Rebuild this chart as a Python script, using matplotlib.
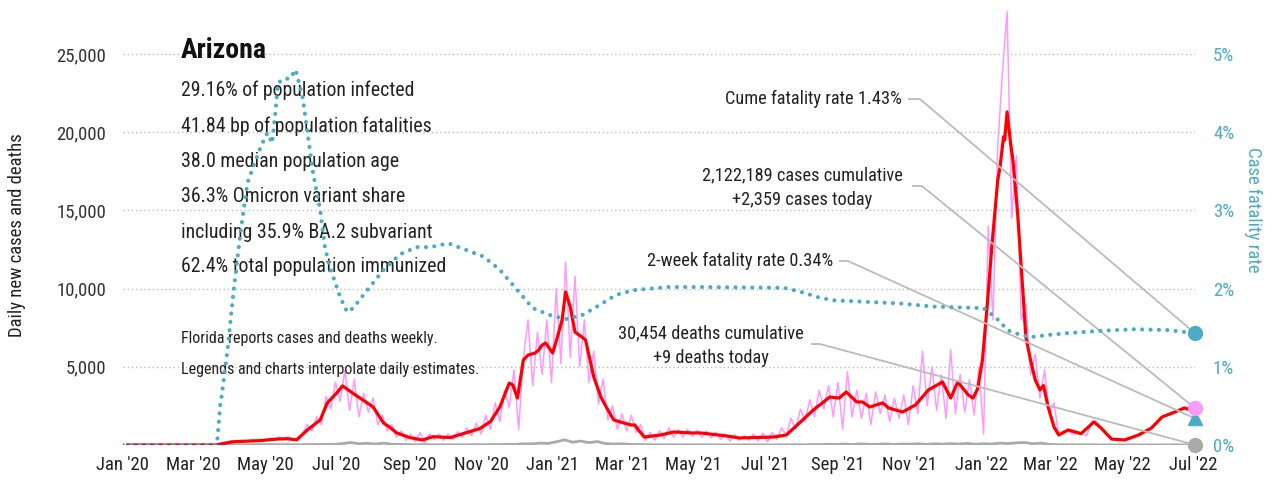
import matplotlib
matplotlib.use("Agg")
import matplotlib.pyplot as plt
import matplotlib.dates as mdates
from matplotlib import font_manager as fm
from matplotlib.ticker import FixedLocator, FuncFormatter
import pandas as pd

# ---------------- data ----------------
state_name = "Arizona"
stat_lines = [
    "29.16% of population infected",
    "41.84 bp of population fatalities",
    "38.0 median population age",
    "36.3% Omicron variant share",
    "including 35.9% BA.2 subvariant",
    "62.4% total population immunized",
]
note_lines = [
    "Florida reports cases and deaths weekly.",
    "Legends and charts interpolate daily estimates.",
]
cume_cases_label = "2,122,189 cases cumulative"
today_cases_label = "+2,359 cases today"
cume_deaths_label = "30,454 deaths cumulative"
today_deaths_label = "+9 deaths today"
cume_cfr_label = "Cume fatality rate 1.43%"
twoweek_cfr_label = "2-week fatality rate 0.34%"

last_date = "2022-07-02"
cases_today = 2359
deaths_today = 9
cume_cfr = 1.43
twoweek_cfr = 0.34

# 7-day average of new cases (red)
avg_dates = [
    "2020-01-05", "2020-03-20", "2020-04-04", "2020-04-27", "2020-05-11", "2020-05-20",
    "2020-05-28", "2020-06-06", "2020-06-17", "2020-06-23", "2020-07-01", "2020-07-06",
    "2020-07-15", "2020-07-27", "2020-08-01", "2020-08-10", "2020-08-15", "2020-08-21",
    "2020-09-01", "2020-09-12", "2020-09-21", "2020-10-06", "2020-10-20", "2020-10-31",
    "2020-11-09", "2020-11-17", "2020-11-25", "2020-11-28", "2020-12-02", "2020-12-07",
    "2020-12-11", "2020-12-17", "2020-12-20", "2020-12-23", "2020-12-26", "2021-01-01",
    "2021-01-05", "2021-01-09", "2021-01-12", "2021-01-16", "2021-01-20", "2021-01-26",
    "2021-01-29", "2021-02-05", "2021-02-11", "2021-02-17", "2021-02-22", "2021-03-03",
    "2021-03-09", "2021-03-12", "2021-03-15", "2021-03-20", "2021-04-03", "2021-04-14",
    "2021-04-30", "2021-05-07", "2021-05-29", "2021-06-09", "2021-07-08", "2021-07-19",
    "2021-07-30", "2021-08-11", "2021-08-25", "2021-09-02", "2021-09-08", "2021-09-17",
    "2021-09-22", "2021-09-28", "2021-10-09", "2021-10-14", "2021-10-26", "2021-11-06",
    "2021-11-17", "2021-11-29", "2021-12-06", "2021-12-12", "2021-12-21", "2021-12-25",
    "2021-12-29", "2022-01-02", "2022-01-06", "2022-01-10", "2022-01-15", "2022-01-17",
    "2022-01-20", "2022-01-21", "2022-01-23", "2022-01-26", "2022-01-28", "2022-02-01",
    "2022-02-05", "2022-02-08", "2022-02-12", "2022-02-16", "2022-02-20", "2022-02-23",
    "2022-02-27", "2022-03-04", "2022-03-08", "2022-03-16", "2022-03-27", "2022-04-07",
    "2022-04-13", "2022-04-22", "2022-05-03", "2022-05-15", "2022-05-26", "2022-06-04",
    "2022-06-15", "2022-06-23", "2022-06-28", "2022-07-02",
]
avg_cases = [
    0, 0, 210, 280, 380, 400,
    330, 960, 1600, 2690, 3320, 3780,
    3300, 2690, 2440, 1400, 1150, 780,
    480, 320, 530, 480, 800, 1050,
    1500, 2430, 3960, 3840, 3000, 5430,
    5750, 5880, 6070, 6390, 6520, 5880,
    6900, 7990, 9780, 8820, 7220, 6900,
    6710, 4350, 3070, 2240, 1600, 1400,
    1280, 1280, 960, 510, 640, 830,
    770, 770, 580, 450, 510, 640,
    1400, 2240, 3070, 3000, 3390, 2750,
    2750, 2430, 2690, 2370, 2110, 2560,
    3520, 4030, 3000, 4030, 3200, 3000,
    3600, 5430, 8820, 12660, 16900, 17780,
    19700, 19500, 21300, 19300, 18200, 14800,
    10360, 6900, 5430, 4160, 3520, 3800,
    2430, 1150, 640, 960, 730, 1470,
    1090, 380, 320, 640, 1090, 1790,
    2110, 2370, 2240, 2430,
]

# reported new cases (pink), every 4 days from 2020-03-02
daily_start = "2020-03-02"
daily_cases = [
    0, 0, 0, 0, 20, 60, 150, 200,
    280, 200, 300, 220, 330, 250, 350, 280,
    420, 300, 500, 380, 520, 300, 420, 700,
    1300, 900, 1800, 1300, 3100, 2300, 4000, 2800,
    4800, 2200, 4200, 1800, 3300, 2100, 3000, 1300,
    1900, 900, 1300, 500, 900, 300, 700, 200,
    800, 150, 700, 350, 700, 300, 700, 350,
    850, 500, 1100, 600, 1400, 700, 1900, 1000,
    2700, 1500, 3500, 2400, 4800, 1000, 5500, 8000,
    3800, 7200, 4500, 8000, 4000, 10000, 5200, 11700,
    5600, 10800, 5000, 8000, 4000, 6000, 2600, 4200,
    1600, 2500, 1000, 2000, 900, 1900, 800, 1300,
    300, 800, 300, 900, 400, 1100, 500, 1000,
    500, 1000, 550, 950, 500, 900, 450, 800,
    350, 700, 250, 650, 300, 600, 300, 700,
    250, 750, 200, 800, 350, 1100, 600, 1700,
    1000, 2300, 1500, 2900, 1800, 3500, 2300, 3800,
    1800, 4000, 1000, 4700, 1800, 3500, 1700, 3300,
    1300, 3400, 2000, 3200, 1500, 3000, 1700, 3200,
    1300, 3800, 2000, 6000, 2500, 5000, 2200, 4500,
    1700, 6100, 2000, 4500, 2100, 4200, 1900, 5000,
    700, 14000, 8000, 19000, 23800, 27700, 14500, 18500,
    8000, 9000, 4500, 5800, 3000, 4800, 2000, 2700,
    600, 900, 900, 700, 750, 700, 600, 1500,
    1500, 1100, 700, 400, 300, 300, 300, 350,
    550, 650, 800, 950, 1100, 1500, 1800, 1900,
    2100, 2150, 2300, 2400, 2350, 2359,
]

# new deaths (grey), weekly from 2020-01-06
deaths_start = "2020-01-06"
daily_deaths = [
    0, 0, 0, 0, 0, 0, 0, 0,
    0, 0, 2, 8, 15, 20, 25, 18, 25, 30, 20, 25, 15,
    20, 30, 25, 40, 45, 90, 160, 80, 110, 60, 120, 50, 40, 25,
    15, 30, 10, 20, 15, 20, 10, 25, 15, 30, 25, 45, 40,
    80, 70, 120, 100,
    200, 330, 180, 250, 150, 220, 90, 60, 80, 40, 30, 20, 15,
    10, 20, 10, 15, 10, 15, 8, 12, 5, 10, 15, 8, 12,
    5, 15, 10, 20, 15, 30, 25, 45, 35, 60, 30, 70, 50,
    40, 70, 35, 60, 50, 80, 40, 75, 55, 90, 60, 100, 50,
    80, 60, 120, 90, 140, 160, 80, 120, 40,
    20, 15, 10, 12, 8, 10, 6, 8, 5, 8, 6, 7, 5, 6, 8, 7, 9,
]

# case fatality rate, percent (teal, right axis)
cfr_dates = [
    "2020-01-01", "2020-03-21", "2020-03-24", "2020-03-25", "2020-03-30", "2020-04-04",
    "2020-04-10", "2020-04-16", "2020-04-21", "2020-04-27", "2020-04-30", "2020-05-03",
    "2020-05-07", "2020-05-10", "2020-05-12", "2020-05-18", "2020-05-22", "2020-05-27",
    "2020-06-02", "2020-06-07", "2020-06-11", "2020-06-17", "2020-06-21", "2020-06-25",
    "2020-06-30", "2020-07-04", "2020-07-10", "2020-07-15", "2020-07-27", "2020-08-10",
    "2020-08-24", "2020-09-07", "2020-09-19", "2020-10-04", "2020-10-20", "2020-11-03",
    "2020-11-17", "2020-12-02", "2020-12-15", "2020-12-30", "2021-01-12", "2021-01-26",
    "2021-02-10", "2021-02-24", "2021-03-11", "2021-04-09", "2021-05-07", "2021-07-17",
    "2021-07-31", "2021-08-15", "2021-08-28", "2021-09-26", "2021-10-24", "2021-11-21",
    "2022-01-03", "2022-01-09", "2022-01-17", "2022-01-23", "2022-02-03", "2022-02-12",
    "2022-03-01", "2022-03-15", "2022-04-13", "2022-05-11", "2022-06-09", "2022-07-02",
]
cfr_pct = [
    0.0, 0.0, 0.54, 0.62, 1.21, 1.94,
    2.71, 3.35, 3.56, 3.80, 3.90, 3.99,
    3.86, 4.28, 4.63, 4.69, 4.68, 4.80,
    4.45, 3.90, 3.47, 3.00, 2.53, 2.28,
    2.07, 1.89, 1.70, 1.75, 1.98, 2.24,
    2.44, 2.53, 2.53, 2.58, 2.49, 2.41,
    2.24, 1.98, 1.75, 1.66, 1.61, 1.66,
    1.79, 1.92, 1.98, 2.02, 2.02, 2.01,
    1.96, 1.89, 1.85, 1.83, 1.81, 1.77,
    1.75, 1.68, 1.58, 1.47, 1.41, 1.38,
    1.41, 1.43, 1.46, 1.48, 1.47, 1.43,
]

left_ticks = [5000, 10000, 15000, 20000, 25000]
right_ticks = [0, 1, 2, 3, 4, 5]

# ---------------- style ----------------
names = {f.name for f in fm.fontManager.ttflist}
stretch = "normal"
if "Liberation Sans Narrow" in names:
    family = "Liberation Sans Narrow"
elif "Roboto Condensed" in names:
    family = "Roboto Condensed"
elif any(f.name == "DejaVu Sans" and "cond" in str(f.stretch) for f in fm.fontManager.ttflist):
    family = "DejaVu Sans"
    stretch = "condensed"
else:
    family = "Roboto"
plt.rcParams["font.family"] = [family, "DejaVu Sans"]
plt.rcParams["font.stretch"] = stretch

TEAL = "#4bacc6"
PINK = "#ff99ff"
RED = "#ff0000"
GREY = "#aaaaaa"
TXT = "#222222"
GRID = "#bbbbbb"

fig = plt.figure(figsize=(12.81, 4.87), dpi=100)
ax = fig.add_axes([0.0960, 0.08624, 0.8368, 0.8992])
ax2 = ax.twinx()

d_avg = pd.to_datetime(avg_dates)
d_daily = pd.date_range(daily_start, periods=len(daily_cases), freq="4D")
d_deaths = list(pd.date_range(deaths_start, periods=len(daily_deaths), freq="7D")) + [pd.Timestamp(last_date)]
v_deaths = daily_deaths + [deaths_today]
d_cfr = pd.to_datetime(cfr_dates)
t_last = pd.Timestamp(last_date)

ax.plot(d_daily, daily_cases, color=PINK, lw=1.1, zorder=2)
ax.plot(d_deaths, v_deaths, color=GREY, lw=2.0, zorder=3)
ax.plot(d_avg, avg_cases, color=RED, lw=2.3, zorder=4, solid_joinstyle="round")

ax2.plot(d_cfr, cfr_pct, color=TEAL, lw=3.0, linestyle=(0, (0.01, 2.0)),
         dash_capstyle="round", zorder=5)

ymax = 28000
ax.set_ylim(0, ymax)
ax2.set_ylim(0, ymax / 5000)
ax.set_xlim(pd.Timestamp("2020-01-01"), t_last)

for a in (ax, ax2):
    for s in a.spines.values():
        s.set_visible(False)
    a.patch.set_visible(False)

ax.yaxis.set_major_locator(FixedLocator(left_ticks))
ax.yaxis.set_major_formatter(FuncFormatter(lambda v, p: f"{int(v):,}"))
ax.tick_params(axis="y", length=0, pad=12, labelsize=13.5, labelcolor="#333333")
ax.grid(axis="y", color=GRID, lw=1.0, linestyle=(0, (1, 2)))
ax.set_axisbelow(True)

ax2.yaxis.set_major_locator(FixedLocator(right_ticks))
ax2.yaxis.set_major_formatter(FuncFormatter(lambda v, p: f"{int(v)}%"))
ax2.tick_params(axis="y", length=0, pad=13, labelsize=13.5, labelcolor=TEAL)

ax.xaxis.set_major_locator(mdates.MonthLocator(bymonth=[1, 3, 5, 7, 9, 11]))
ax.xaxis.set_major_formatter(mdates.DateFormatter("%b '%y"))
ax.tick_params(axis="x", length=0, pad=8, labelsize=13.5, labelcolor="#222222")

ax.set_ylabel("Daily new cases and deaths", fontsize=13.5, color=TXT)
ax.yaxis.set_label_coords(-0.0905, 0.48)
ax2.set_ylabel("Case fatality rate", fontsize=13.5, color=TEAL, rotation=270, va="center")
ax2.yaxis.set_label_coords(1.054, 0.537)

# text block
ax2.text(0.0541, 0.902, state_name, transform=ax.transAxes, fontsize=20, fontweight="bold",
         color="#111111", va="center", ha="left", zorder=1)
stat_y = [0.8107, 0.7285, 0.6485, 0.5686, 0.4864, 0.4065]
for s, y in zip(stat_lines, stat_y):
    ax.text(0.0541, y, s, transform=ax.transAxes, fontsize=14.3, color=TXT, va="center", ha="left")
for s, y in zip(note_lines, [0.2421, 0.1713]):
    ax.text(0.0541, y, s, transform=ax.transAxes, fontsize=11.5, color=TXT, va="center", ha="left")

# annotations
def to_axes(a, x, y):
    return ax.transAxes.inverted().transform(a.transData.transform((mdates.date2num(x), y)))

def connector(start, knee_x, end):
    ax.plot([start[0], knee_x, end[0]], [start[1], start[1], end[1]], transform=ax.transAxes,
            color=GRID, lw=1.3, clip_on=False, zorder=6)

ANN = 13.2
ax.text(0.7267, 0.790, cume_cfr_label, transform=ax.transAxes, fontsize=ANN, color=TXT,
        ha="right", va="center")
connector((0.7332, 0.790), 0.7435, to_axes(ax2, t_last, cume_cfr))

ax.text(0.6338, 0.6166, cume_cases_label, transform=ax.transAxes, fontsize=ANN, color=TXT,
        ha="center", va="center")
ax.text(0.6338, 0.5595, today_cases_label, transform=ax.transAxes, fontsize=ANN, color=TXT,
        ha="center", va="center")
connector((0.7369, 0.5915), 0.7453, to_axes(ax, t_last, cases_today))

ax.text(0.6623, 0.4202, twoweek_cfr_label, transform=ax.transAxes, fontsize=ANN, color=TXT,
        ha="right", va="center")
connector((0.6689, 0.4202), 0.6763, to_axes(ax2, t_last, twoweek_cfr))

ax.text(0.5485, 0.2558, cume_deaths_label, transform=ax.transAxes, fontsize=ANN, color=TXT,
        ha="center", va="center")
ax.text(0.5485, 0.1987, today_deaths_label, transform=ax.transAxes, fontsize=ANN, color=TXT,
        ha="center", va="center")
connector((0.6427, 0.2306), 0.6502, to_axes(ax, t_last, deaths_today))

# end markers
ax2.plot([t_last], [cume_cfr], "o", color=TEAL, ms=10, clip_on=False, zorder=8)
ax2.plot([t_last], [twoweek_cfr], "^", color=TEAL, ms=10, clip_on=False, zorder=8)
ax2.plot([mdates.date2num(t_last)], [cases_today / 5000], "o", color=PINK, ms=10, clip_on=False, zorder=8)
ax2.plot([mdates.date2num(t_last)], [deaths_today / 5000], "o", color=GREY, ms=10, clip_on=False, zorder=8)

fig.savefig("out.png", dpi=100)
